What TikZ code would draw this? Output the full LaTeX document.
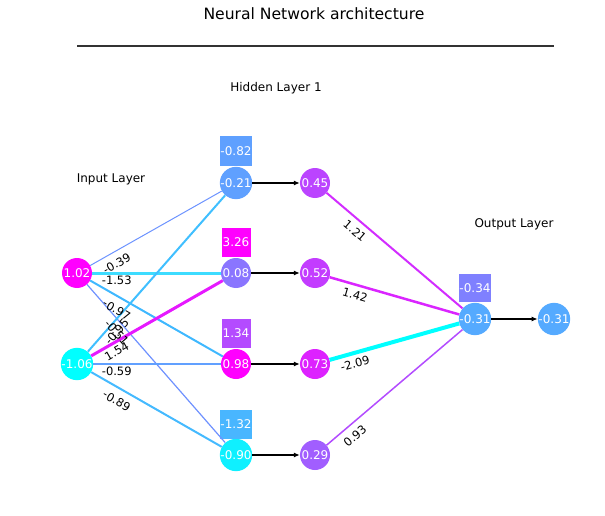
\documentclass[tikz,border=0pt]{standalone}
\usepackage{fontspec}
\setmainfont{DejaVu Sans}
\usetikzlibrary{calc,arrows.meta}
\definecolor{cA}{HTML}{5FA0FF}
\definecolor{cB}{HTML}{8A75FF}
\definecolor{cMag}{HTML}{FF00FF}
\definecolor{cCy}{HTML}{00FFFF}
\definecolor{cD}{HTML}{0FF0FF}
\definecolor{cE}{HTML}{BB44FF}
\definecolor{cF}{HTML}{C33CFF}
\definecolor{cG}{HTML}{DD22FF}
\definecolor{cH}{HTML}{A15EFF}
\definecolor{cO}{HTML}{55AAFF}
\definecolor{bC}{HTML}{B44BFF}
\definecolor{bD}{HTML}{49B6FF}
\definecolor{bO}{HTML}{7F80FF}
\definecolor{e1}{HTML}{6C93FF}
\definecolor{e2}{HTML}{3DDCFF}
\definecolor{e3}{HTML}{3FB8FF}
\definecolor{e4}{HTML}{6E91FF}
\definecolor{e5}{HTML}{40BFFF}
\definecolor{e6}{HTML}{E619FF}
\definecolor{e7}{HTML}{61A0FF}
\definecolor{e8}{HTML}{45BAFF}
\definecolor{f1}{HTML}{D22DFF}
\definecolor{f2}{HTML}{DA25FF}
\definecolor{f3}{HTML}{00FFFF}
\definecolor{f4}{HTML}{B34CFF}
\tikzset{
  neuron/.style={circle, minimum size=30pt, inner sep=0pt, text=white, font=\fontsize{12}{14}\selectfont},
  biasbox/.style={rectangle, minimum width=29pt, minimum height=29pt, inner sep=0pt, text=white, font=\fontsize{12}{14}\selectfont},
  wl/.style={font=\fontsize{11.5}{13}\selectfont, inner sep=0pt, text=black},
  layerlbl/.style={font=\fontsize{12}{14}\selectfont, inner sep=0pt},
  fwd/.style={draw=black, line width=1.5pt, -{Latex[length=6pt,width=5pt]}}
}
\begin{document}
\begin{tikzpicture}[x=1pt,y=-1pt]
\useasboundingbox (0,0) rectangle (605,516);
% title
\node[font=\fontsize{15.6}{18}\selectfont, inner sep=0pt] (title) at (314,14) {Neural Network architecture};
\coordinate (tl) at (77,46);
\coordinate (tr) at (554,46);
\draw[line width=1.5pt, color=black!80] (tl) -- (tr);
% layer labels
\node[layerlbl] (lin) at (111,179) {Input Layer};
\node[layerlbl] (lhid) at (276,88) {Hidden Layer 1};
\node[layerlbl] (lout) at (514,224) {Output Layer};
% neurons
\node[neuron, fill=cMag] (i1) at (77,273) {1.02};
\node[neuron, fill=cCy] (i2) at (77,364) {-1.06};
\node[neuron, fill=cA] (ha) at (236,183) {-0.21};
\node[neuron, fill=cB] (hb) at (236,273) {0.08};
\node[neuron, fill=cMag] (hc) at (236,364) {0.98};
\node[neuron, fill=cD] (hd) at (236,455) {-0.90};
\node[neuron, fill=cE] (ga) at (315,183) {0.45};
\node[neuron, fill=cF] (gb) at (315,273) {0.52};
\node[neuron, fill=cG] (gc) at (315,364) {0.73};
\node[neuron, fill=cH] (gd) at (315,455) {0.29};
\node[neuron, fill=cO] (o) at (475,319) {-0.31};
\node[neuron, fill=cO] (y) at (554,319) {-0.31};
% bias boxes
\node[biasbox, fill=cA] (ba) at (236,151) {-0.82};
\node[biasbox, fill=cMag] (bb) at (236,242) {3.26};
\node[biasbox, fill=bC] (bc) at (236,333) {1.34};
\node[biasbox, fill=bD] (bd) at (236,424) {-1.32};
\node[biasbox, fill=bO, minimum width=28pt, minimum height=28pt] (bo) at (475,288) {-0.34};
% input -> hidden edges
\draw[e1, line width=1pt] (i1) -- (ha);
\draw[e2, line width=3pt] (i1) -- (hb);
\draw[e3, line width=2pt] (i1) -- (hc);
\draw[e4, line width=1.2pt] (i1) -- (hd);
\draw[e5, line width=2pt] (i2) -- (ha);
\draw[e6, line width=3pt] (i2) -- (hb);
\draw[e7, line width=2pt] (i2) -- (hc);
\draw[e8, line width=2pt] (i2) -- (hd);
% hidden -> output edges
\draw[f1, line width=2pt] (ga) -- (o);
\draw[f2, line width=2.5pt] (gb) -- (o);
\draw[f3, line width=4pt] (gc) -- (o);
\draw[f4, line width=1.5pt] (gd) -- (o);
% activation arrows
\draw[fwd] (ha) -- (ga);
\draw[fwd] (hb) -- (gb);
\draw[fwd] (hc) -- (gc);
\draw[fwd] (hd) -- (gd);
\draw[fwd] (o) -- (y);
% weight label anchor points (25% along each edge)
\coordinate (m1) at ($(i1)!0.25!(ha)$);
\coordinate (m2) at ($(i1)!0.25!(hb)$);
\coordinate (m3) at ($(i1)!0.25!(hc)$);
\coordinate (m4) at ($(i1)!0.25!(hd)$);
\coordinate (m5) at ($(i2)!0.25!(ha)$);
\coordinate (m6) at ($(i2)!0.25!(hb)$);
\coordinate (m7) at ($(i2)!0.25!(hc)$);
\coordinate (m8) at ($(i2)!0.25!(hd)$);
\coordinate (n1) at ($(ga)!0.25!(o)$);
\coordinate (n2) at ($(gb)!0.25!(o)$);
\coordinate (n3) at ($(gc)!0.25!(o)$);
\coordinate (n4) at ($(gd)!0.25!(o)$);
% weight labels
\node[wl, rotate=29.5] (w1) at ([yshift=-13pt]m1) {-0.39};
\node[wl] (w2) at ([yshift=-7pt]m2) {-1.53};
\node[wl, rotate=-29.8] (w3) at ([yshift=-14pt]m3) {-0.97};
\node[wl, rotate=-48.8] (w4) at ([yshift=-14pt]m4) {-0.51};
\node[wl, rotate=48.7] (w5) at ([yshift=-13pt]m5) {-0.95};
\node[wl, rotate=29.8] (w6) at ([yshift=-10pt]m6) {1.54};
\node[wl] (w7) at ([yshift=-7pt]m7) {-0.59};
\node[wl, rotate=-29.8] (w8) at ([yshift=-14pt]m8) {-0.89};
\node[wl, rotate=-40.4] (v1) at ([yshift=-14pt]n1) {1.21};
\node[wl, rotate=-16] (v2) at ([yshift=-10.5pt]n2) {1.42};
\node[wl, rotate=15.7] (v3) at ([yshift=-10.5pt]n3) {-2.09};
\node[wl, rotate=40.4] (v4) at ([yshift=-15pt]n4) {0.93};
\end{tikzpicture}
\end{document}
